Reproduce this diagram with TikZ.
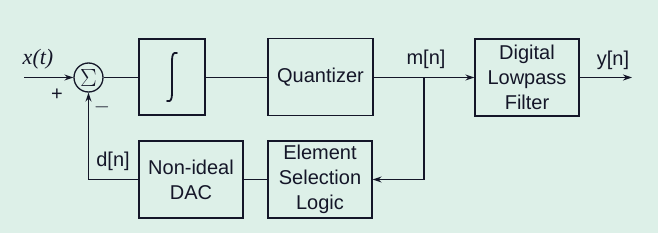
\documentclass[tikz,border=0pt]{standalone}
\usepackage{fontspec}
\setmainfont{Liberation Sans}
\newfontfamily\serifit{Liberation Serif}
\usetikzlibrary{arrows.meta}
\definecolor{bgmint}{RGB}{221,240,232}
\definecolor{inkc}{RGB}{20,22,40}
\begin{document}
\begin{tikzpicture}[x=1pt,y=-1pt,
  blk/.style={draw=inkc,line width=1.3pt,minimum width=104pt,minimum height=77pt,inner sep=0pt,align=center,font=\fontsize{20}{25}\selectfont,text=inkc},
  wire/.style={draw=inkc,line width=1.2pt},
  arr/.style={wire,-{Stealth[length=9pt,width=6pt]}},
  lbl/.style={font=\fontsize{20}{24}\selectfont,text=inkc,inner sep=0pt}]
\fill[bgmint] (0,0) rectangle (658,233);
\useasboundingbox (0,0) rectangle (658,233);
\node[draw=inkc,line width=1.3pt,circle,minimum size=29pt,inner sep=0pt,text=inkc,font=\fontsize{27}{27}\selectfont] (sum) at (88.5,77.5) {$\Sigma$};
\node[blk,minimum width=66pt,minimum height=76pt] (integ) at (172,77) {};
\node[blk,minimum width=105pt] (quant) at (320.5,77) {Quantizer};
\node[blk] (dlpf) at (527,77.5) {Digital\\Lowpass\\Filter};
\node[blk] (esl) at (320,179.5) {Element\\Selection\\Logic};
\node[blk] (dac) at (191,179.5) {Non-ideal\\DAC};
\draw[inkc,line width=1.8pt,line cap=round]
  ([shift={(-5,24)}]integ.center) .. controls ([shift={(-1,25)}]integ.center) and ([shift={(0,22)}]integ.center) .. ([shift={(0,16)}]integ.center)
  -- ([shift={(0,-16)}]integ.center) .. controls ([shift={(0,-22)}]integ.center) and ([shift={(1,-25)}]integ.center) .. ([shift={(5,-24)}]integ.center);
\coordinate (in) at (24,77.5);
\coordinate (out) at (632,77.5);
\coordinate (br) at (424,77.5);
\coordinate (brd) at (424,179.5);
\coordinate (fb) at (88.5,179.5);
\draw[arr] (in) -- (sum.west);
\draw[wire] (sum.east) -- (integ.west |- sum.east);
\draw[wire] (integ.east |- sum.east) -- (quant.west |- sum.east);
\draw[arr] (quant.east |- br) -- (dlpf.west |- br);
\draw[arr] (dlpf.east |- out) -- (out);
\draw[arr] (br) -- (brd) -- (esl.east);
\draw[wire] (esl.west) -- (dac.east);
\draw[arr] (dac.west) -- (fb) -- (sum.south);
\node[lbl,font=\fontsize{22}{24}\selectfont\serifit\itshape] (xl) at (38,59) {x(t)};
\node[lbl] (pl) at (57,95) {+};
\node[lbl] (ml) at (102,107) {$-$};
\node[lbl] (mn) at (426,59) {m[n]};
\node[lbl] (yn) at (613,60) {y[n]};
\node[lbl] (dn) at (113,161) {d[n]};
\end{tikzpicture}
\end{document}
